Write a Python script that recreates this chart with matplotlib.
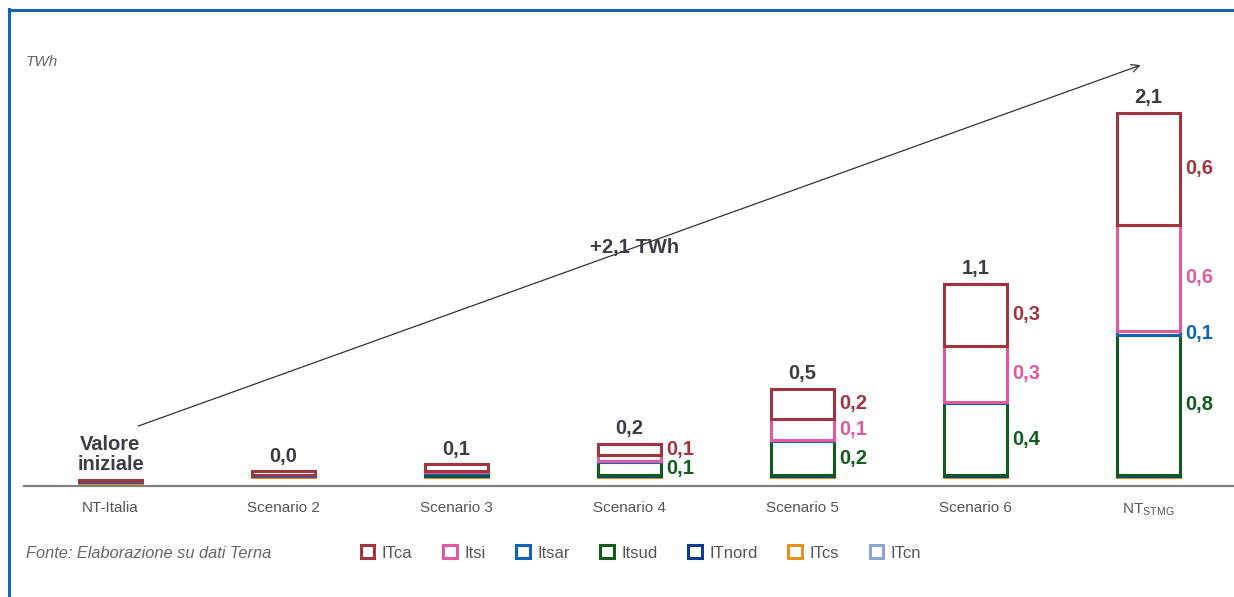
import matplotlib
matplotlib.use("Agg")
import matplotlib.pyplot as plt
from matplotlib.patches import Patch
from matplotlib.lines import Line2D
import numpy as np

plt.rcParams["font.family"] = ["Liberation Sans", "DejaVu Sans"]

categories = ["NT-Italia", "Scenario 2", "Scenario 3", "Scenario 4",
              "Scenario 5", "Scenario 6", r"NT$_{\mathregular{STMG}}$"]

# TWh, stacked bottom to top
base = [0.01, 0.05, 0.05, 0.05, 0.05, 0.05, 0.05]
itcn = [0, 0, 0, 0, 0, 0, 0]
itcs = [0.012, 0.008, 0.006, 0.006, 0.006, 0.008, 0.008]
itnord = [0, 0, 0.004, 0.004, 0.004, 0.004, 0.006]
itsud = [0, 0, 0.015, 0.075, 0.195, 0.41, 0.80]
itsar = [0.004, 0.006, 0.006, 0.006, 0.01, 0.008, 0.02]
itsi = [0, 0, 0.004, 0.035, 0.12, 0.32, 0.61]
itca = [0.008, 0.02, 0.04, 0.065, 0.17, 0.355, 0.64]

total_labels = ["Valore\niniziale", "0,0", "0,1", "0,2", "0,5", "1,1", "2,1"]
itca_labels = ["", "", "", "0,1", "0,2", "0,3", "0,6"]
itsi_labels = ["", "", "", "", "0,1", "0,3", "0,6"]
itsar_labels = ["", "", "", "", "", "", "0,1"]
itsud_labels = ["", "", "", "0,1", "0,2", "0,4", "0,8"]

series = [
    ("ITcn", itcn, "#8ca5d7", None),
    ("ITcs", itcs, "#e0961e", None),
    ("ITnord", itnord, "#0a3c8c", None),
    ("Itsud", itsud, "#125a1e", itsud_labels),
    ("Itsar", itsar, "#1464b4", itsar_labels),
    ("Itsi", itsi, "#e05aa0", itsi_labels),
    ("ITca", itca, "#a0343f", itca_labels),
]

fig = plt.figure(figsize=(12.34, 5.97), dpi=100)
ax = fig.add_axes([24 / 1234, 111 / 597, 1211 / 1234, 426 / 597])

x = np.arange(len(categories))
width = 0.36
lab_size = 14.5
bottom = np.array(base, dtype=float)
for name, vals, color, labels in series:
    vals = np.array(vals, dtype=float)
    ax.bar(x, vals, width, bottom=bottom, facecolor="white",
           edgecolor=color, linewidth=2.2, zorder=2)
    if labels:
        for i, lab in enumerate(labels):
            if lab:
                ax.annotate(lab, (x[i] + width / 2, bottom[i] + vals[i] / 2),
                            xytext=(4, 0), textcoords="offset points",
                            ha="left", va="center", fontsize=lab_size,
                            fontweight="bold", color=color)
    bottom = bottom + vals

for i, lab in enumerate(total_labels):
    ax.annotate(lab, (x[i], bottom[i]), xytext=(0, 4),
                textcoords="offset points", ha="center", va="bottom",
                fontsize=lab_size, fontweight="bold", color="#3c3c46",
                linespacing=1.1)

ax.set_xlim(-0.5, len(categories) - 0.5)
ax.set_ylim(0, 2.434)
ax.axhline(0, color="#808080", linewidth=1.6, zorder=3, clip_on=False)
for s in ax.spines.values():
    s.set_visible(False)
ax.set_yticks([])
ax.set_xticks(x)
ax.set_xticklabels(categories, fontsize=11, color="#555555")
ax.tick_params(axis="x", length=0, pad=11)

# growth arrow
ax.annotate("", xy=(5.97, 2.41), xytext=(0.145, 0.337),
            arrowprops=dict(arrowstyle="->", color="#333333", lw=0.9,
                            mutation_scale=14))
ax.text(3.03, 1.36, "+2,1 TWh", ha="center", va="center", fontsize=lab_size,
        fontweight="bold", color="#3c3c46")

fig.text(26 / 1234, 1 - 62 / 597, "TWh", fontsize=11, style="italic",
         color="#666666", va="center")
fig.text(26 / 1234, 1 - 553 / 597, "Fonte: Elaborazione su dati Terna",
         fontsize=11.8, style="italic", color="#666666", va="center")

handles = [Patch(facecolor="white", edgecolor=c, linewidth=2.2, label=n)
           for n, _, c, _ in series[::-1]]
fig.legend(handles=handles, loc="center left",
           bbox_to_anchor=(346 / 1234, 1 - 553 / 597), ncol=7, frameon=False,
           fontsize=12, handlelength=0.8, handleheight=0.8,
           handletextpad=0.45, columnspacing=1.85, labelcolor="#555555")

# blue frame on top and left
fig.add_artist(Line2D([8.5 / 1234, 8.5 / 1234], [0, 1 - 9 / 597],
                      color="#1464b4", linewidth=2.2))
fig.add_artist(Line2D([8.5 / 1234, 1], [1 - 9.5 / 597, 1 - 9.5 / 597],
                      color="#1464b4", linewidth=2.2))

fig.savefig("out.png", dpi=100)
